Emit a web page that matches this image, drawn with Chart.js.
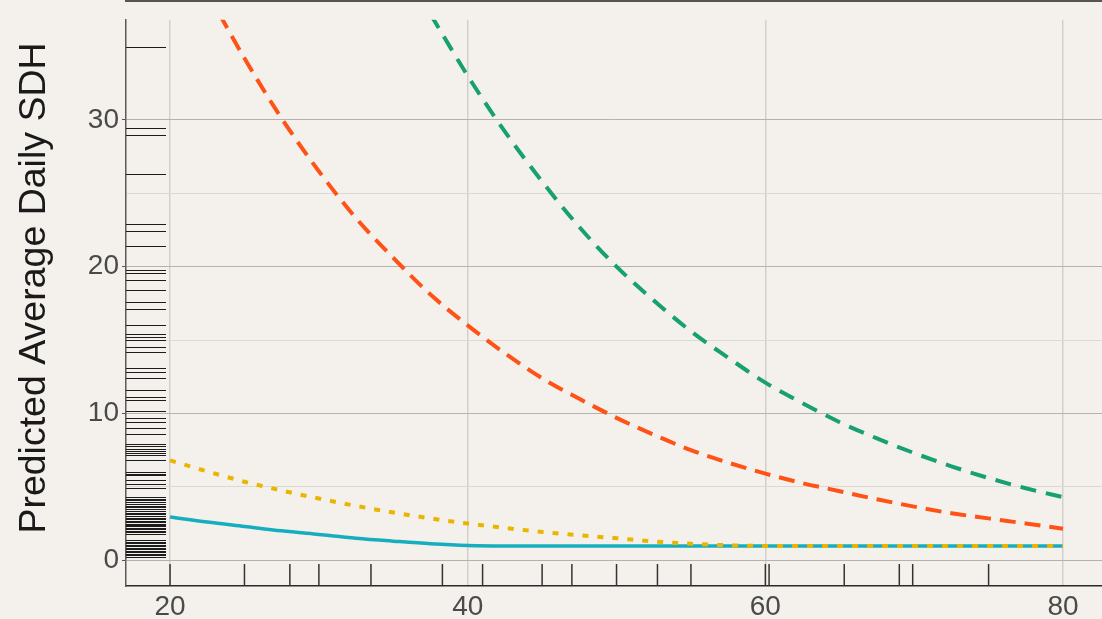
<!DOCTYPE html>
<html>
<head>
<meta charset="utf-8">
<script src="https://cdn.jsdelivr.net/npm/chart.js@4.4.1/dist/chart.umd.min.js"></script>
<style>
    html, body { margin: 0; padding: 0; background: #f4f1ec; }
    #wrap { width: 1102px; height: 619px; position: relative; }
</style>
</head>
<body>
<div id="wrap"><canvas id="sdhChart"></canvas></div>
<script>
// Данные
const ages = [20, 22.5, 25, 27.5, 30, 32.5, 35, 37.5, 40, 42.5, 45, 47.5, 50, 52.5, 55, 57.5, 60, 62.5, 65, 67.5, 70, 72.5, 75, 77.5, 80];
const tealValues   = [2.95, 2.6, 2.3, 2.0, 1.75, 1.5, 1.3, 1.12, 1.0, 0.97, 0.97, 0.97, 0.97, 0.97, 0.97, 0.97, 0.97, 0.97, 0.97, 0.97, 0.97, 0.97, 0.97, 0.97, 0.97];
const yellowValues = [6.8, 6.05, 5.35, 4.75, 4.2, 3.7, 3.25, 2.85, 2.5, 2.2, 1.93, 1.7, 1.5, 1.28, 1.12, 1.02, 0.97, 0.97, 0.97, 0.97, 0.97, 0.97, 0.97, 0.97, 0.97];
const orangeValues = [null, 38.7, 34.2, 30.1, 26.5, 23.3, 20.6, 18.1, 16.0, 14.1, 12.4, 11.0, 9.7, 8.55, 7.5, 6.65, 5.9, 5.25, 4.7, 4.15, 3.65, 3.2, 2.85, 2.5, 2.15];
const greenValues  = [null, null, null, null, null, null, null, 37.2, 33.0, 29.2, 25.8, 22.7, 20.0, 17.7, 15.6, 13.8, 12.1, 10.7, 9.4, 8.3, 7.3, 6.4, 5.6, 4.9, 4.3];

// Ковровые отметки (rug) по осям
const rugY = [35.0, 29.45, 29.0, 26.3, 22.9, 22.4, 21.4, 19.8, 19.55, 19.1, 18.4, 17.6, 17.1, 16.0, 15.4, 15.2, 15.0, 14.5, 14.2,
    13.1, 12.85, 12.4, 11.6, 11.15, 10.9, 10.2, 9.7, 9.45, 9.0, 8.6, 7.9, 7.75, 7.6, 7.45, 7.3, 7.2, 6.8, 6.0, 5.9, 5.8, 5.45, 5.2, 4.95,
    4.3, 4.2, 4.1, 3.95, 3.85, 3.7, 3.6, 3.5, 3.35, 3.25, 3.15, 3.0, 2.9, 2.8, 2.7, 2.6, 2.5, 2.4, 2.3, 2.2, 2.1, 2.0, 1.9, 1.8,
    1.35, 1.25, 1.15, 1.05, 0.95, 0.85, 0.75, 0.65, 0.55, 0.45, 0.35, 0.25, 0.2];
const rugX = [20, 25, 28.05, 30, 33.5, 38.3, 41, 45, 47, 50, 52.75, 55, 60, 60.25, 65.3, 69, 69.9, 75];

// Подписи осей
const xTickLabels = [20, 40, 60, 80];
const yTickLabels = [0, 10, 20, 30];
const yMinorGrid = [5, 15, 25];
const yAxisTitle = 'Predicted Average Daily SDH';

const rugPlugin = {
    id: 'rug',
    beforeDatasetsDraw(chart) {
        const { ctx, chartArea, scales } = chart;
        ctx.save();
        ctx.strokeStyle = '#1c1c1c';
        ctx.lineWidth = 1;
        rugY.forEach(v => {
            const y = Math.round(scales.y.getPixelForValue(v)) + 0.5;
            ctx.beginPath();
            ctx.moveTo(chartArea.left, y);
            ctx.lineTo(chartArea.left + 40, y);
            ctx.stroke();
        });
        ctx.strokeStyle = '#333';
        ctx.lineWidth = 1.5;
        rugX.forEach(v => {
            const x = scales.x.getPixelForValue(v);
            ctx.beginPath();
            ctx.moveTo(x, chartArea.bottom);
            ctx.lineTo(x, chartArea.bottom - 22);
            ctx.stroke();
        });
        ctx.restore();
    },
    afterDraw(chart) {
        const { ctx, chartArea } = chart;
        ctx.save();
        // верхняя граница соседней панели
        ctx.strokeStyle = '#555';
        ctx.lineWidth = 2;
        ctx.beginPath();
        ctx.moveTo(chartArea.left - 1, 1);
        ctx.lineTo(chartArea.right, 1);
        ctx.stroke();
        // подпись оси Y
        ctx.translate(35, 288);
        ctx.rotate(-Math.PI / 2);
        ctx.fillStyle = '#1a1a1a';
        ctx.font = '37.5px "Liberation Sans", Arial, sans-serif';
        ctx.textAlign = 'center';
        ctx.textBaseline = 'middle';
        ctx.fillText(yAxisTitle, 0, 0);
        ctx.restore();
    }
};

function lineSet(label, data, color, dash, width, order) {
    return {
        label,
        data,
        borderColor: color,
        borderWidth: width,
        borderDash: dash,
        pointRadius: 0,
        fill: false,
        spanGaps: false,
        cubicInterpolationMode: 'monotone',
        order
    };
}

const tickFont = { family: '"Liberation Sans", Arial, sans-serif', size: 28 };

new Chart(document.getElementById('sdhChart'), {
    type: 'line',
    data: {
        labels: ages,
        datasets: [
            lineSet('teal', tealValues, '#16adbf', [], 3.5, 1),
            lineSet('yellow', yellowValues, '#e8b500', [6, 9], 4, 0),
            lineSet('orange', orangeValues, '#ff5216', [16, 9], 4, 2),
            lineSet('green', greenValues, '#17a072', [16, 10], 4, 3)
        ]
    },
    options: {
        responsive: true,
        maintainAspectRatio: false,
        animation: false,
        layout: { padding: { top: 15, right: 0, left: 0, bottom: 0 } },
        plugins: { legend: { display: false }, tooltip: { enabled: false } },
        scales: {
            x: {
                type: 'linear',
                min: 17.04,
                max: 82.62,
                afterBuildTicks: (scale) => { scale.ticks = xTickLabels.map(v => ({ value: v })); },
                afterFit: (scale) => { scale.height = 33; },
                grid: { color: '#d3cfcb', lineWidth: 1.5, drawTicks: false },
                border: { color: '#2a2a2a', width: 1.5 },
                ticks: { font: tickFont, color: '#4a4a4a', padding: 4, autoSkip: false, maxRotation: 0 }
            },
            y: {
                type: 'linear',
                min: -1.757,
                max: 36.82,
                afterBuildTicks: (scale) => {
                    scale.ticks = yTickLabels.concat(yMinorGrid).sort((a, b) => a - b).map(v => ({ value: v }));
                },
                afterFit: (scale) => { scale.width = 126; },
                grid: {
                    color: (c) => yTickLabels.includes(c.tick.value) ? '#b5b1ad' : '#dcd8d4',
                    tickColor: (c) => yTickLabels.includes(c.tick.value) ? '#555' : 'rgba(0,0,0,0)',
                    tickLength: 4,
                    lineWidth: 1
                },
                border: { color: '#5a5a5a', width: 1.5 },
                ticks: {
                    font: tickFont,
                    color: '#4a4a4a',
                    padding: 3,
                    autoSkip: false,
                    callback: (value) => yTickLabels.includes(value) ? value : ''
                }
            }
        }
    },
    plugins: [rugPlugin]
});
</script>
</body>
</html>
